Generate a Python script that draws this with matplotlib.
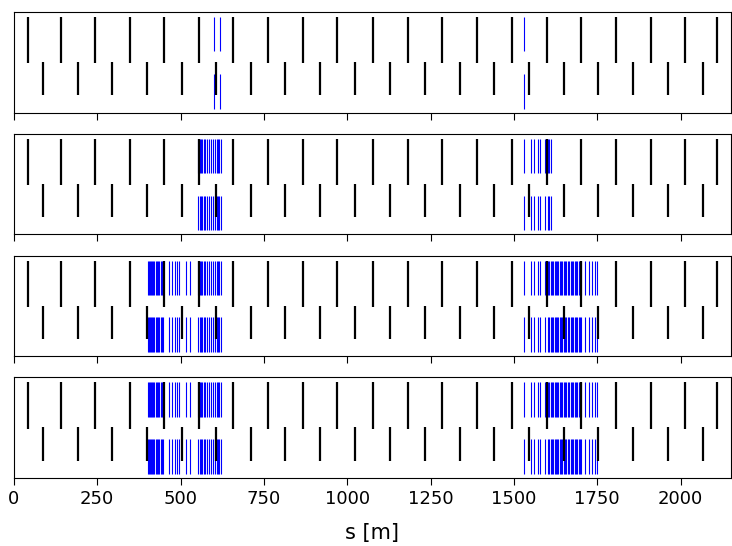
import numpy as np
import matplotlib
matplotlib.use("Agg")
import matplotlib.pyplot as plt

# quadrupole positions along the ring [m]
quads_f = [43, 140, 243, 347, 451, 555, 658, 762, 866, 970, 1076,
           1181, 1285, 1389, 1493, 1598, 1702, 1806, 1910, 2013, 2109]
quads_d = [88, 191, 295, 399, 503, 607, 710, 814, 918, 1022,
           1129, 1233, 1337, 1441, 1545, 1649, 1753, 1858, 1962, 2066]

# corrector positions used in each step [m]
corr_a = [402, 405, 408, 411, 414, 418, 421, 425, 428, 432, 436, 440, 444, 448]
corr_b = [466, 474, 482, 490, 496, 515, 528]
corr_c = [553, 557, 561, 565, 569, 573, 580, 585, 592, 597, 604, 608, 612, 616, 620]
corr_d = [1531, 1551, 1560, 1571, 1579, 1593, 1602, 1606, 1610]
corr_e = [1614, 1618, 1622, 1626, 1629, 1633, 1637, 1641, 1645, 1649, 1653,
          1657, 1661, 1665, 1670, 1674, 1678, 1682, 1686, 1690, 1694, 1698,
          1702, 1713, 1725, 1735, 1743, 1748]

steps = [
    [601, 618, 1531],
    corr_c + corr_d,
    corr_a + corr_b + corr_c + corr_d + corr_e,
    corr_a + corr_b + corr_c + corr_d + corr_e,
]

s_max = 2150
xticks = [0, 250, 500, 750, 1000, 1250, 1500, 1750, 2000]

fig, axes = plt.subplots(4, 1, sharex=True, figsize=(7.32, 5.46), dpi=100)
fig.subplots_adjust(left=0.019, right=0.998, top=0.978, bottom=0.1245, hspace=0.21)

for ax, corr in zip(axes, steps):
    ax.vlines(corr, 0.609, 0.951, color="blue", lw=0.8, zorder=1)
    ax.vlines(corr, 0.04, 0.385, color="blue", lw=0.8, zorder=1)
    ax.vlines(quads_f, 0.489, 0.951, color="black", lw=1.6, zorder=2)
    ax.vlines(quads_d, 0.172, 0.504, color="black", lw=1.6, zorder=2)
    ax.set_ylim(0, 1)
    ax.set_yticks([])
    ax.set_xlim(0, s_max)
    ax.set_xticks(xticks)
    ax.tick_params(axis="x", labelsize=13, length=5)

axes[-1].set_xlabel("s [m]", fontsize=15, labelpad=11)

fig.savefig("out.png", dpi=100)
